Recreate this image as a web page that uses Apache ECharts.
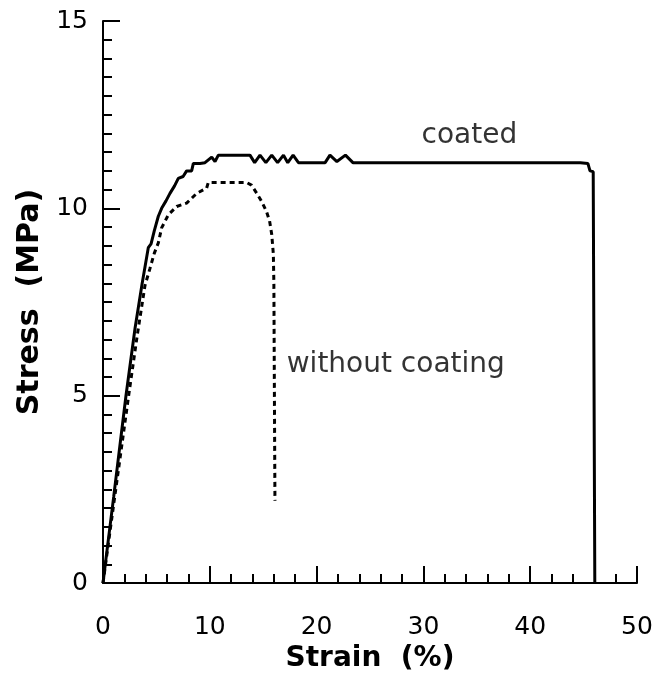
<!DOCTYPE html>
<html>
<head>
<meta charset="utf-8">
<script src="https://cdn.jsdelivr.net/npm/echarts@6/dist/echarts.min.js"></script>
<style>
html,body{margin:0;padding:0;background:#fff;}
#chart{width:658px;height:678px;}
</style>
</head>
<body>
<div id="chart"></div>
<script>
// Coated specimen
var coatedStrain = [0, 0.3, 1.0, 2.15, 3.0, 3.65, 4.24, 4.5, 4.8, 5.18, 5.49, 5.9, 6.27, 6.7, 7.05, 7.5, 7.83, 8.3, 8.46, 9.08, 9.55, 10.18, 10.49, 10.8, 13.76, 14.2, 14.7, 15.25, 15.8, 16.35, 16.9, 17.3, 17.8, 18.3, 20.8, 21.25, 21.9, 22.7, 23.4, 44.7, 45.4, 45.6, 45.9, 46.05];
var coatedStress = [0, 0.7, 2.3, 5.0, 6.8, 7.97, 8.95, 9.05, 9.4, 9.79, 10.0, 10.2, 10.4, 10.6, 10.8, 10.85, 11.0, 11.0, 11.2, 11.2, 11.22, 11.37, 11.25, 11.42, 11.42, 11.22, 11.42, 11.22, 11.42, 11.22, 11.42, 11.22, 11.42, 11.22, 11.22, 11.42, 11.25, 11.42, 11.22, 11.22, 11.2, 11.0, 10.98, 0];
// Specimen without coating
var bareStrain = [0, 1.0, 2.4, 3.2, 3.93, 4.4, 4.8, 5.18, 5.49, 6.12, 6.9, 7.83, 8.77, 9.7, 9.86, 13.45, 13.9, 14.4, 14.86, 15.3, 15.6, 15.8, 15.95, 16.0, 16.05, 16.1];
var bareStress = [0, 2.1, 5.0, 6.6, 7.94, 8.4, 8.8, 9.08, 9.48, 9.83, 10.05, 10.14, 10.4, 10.54, 10.69, 10.69, 10.62, 10.4, 10.18, 9.92, 9.66, 9.3, 8.78, 8.0, 5.0, 2.2];
// Axis ticks
var xTicks = [0, 10, 20, 30, 40, 50];
var yTicks = [0, 5, 10, 15];
// Curve labels
var curveLabels = ['coated', 'without coating'];

function pairs(xs, ys){ var out=[]; for(var i=0;i<xs.length;i++){ out.push([xs[i], ys[i]]); } return out; }

var chart = echarts.init(document.getElementById('chart'), null, {renderer:'canvas'});
var lineAxis = {show:true, onZero:false, lineStyle:{color:'#000', width:2}};
var tickStyle = {color:'#000', width:2};
var tickFont = {fontFamily:'DejaVu Sans', fontSize:25, color:'#000'};
var titleFont = {fontFamily:'DejaVu Sans', fontWeight:'bold', fontSize:28, color:'#000'};
var textFont = {fontFamily:'DejaVu Sans', fontSize:28, color:'#000', textBorderWidth:0};
chart.setOption({
  animation:false,
  backgroundColor:'#fff',
  grid:{left:103, right:21, top:21, bottom:89, containLabel:false},
  xAxis: {
    type:'value', min:xTicks[0], max:xTicks[xTicks.length-1], interval:10,
    name:'Strain  (%)', nameLocation:'middle', nameGap:55,
    nameTextStyle:titleFont,
    axisLine:lineAxis,
    axisTick:{show:true, inside:true, length:17, lineStyle:tickStyle},
    minorTick:{show:true, splitNumber:5, length:9, lineStyle:tickStyle},
    splitLine:{show:false}, minorSplitLine:{show:false},
    axisLabel:Object.assign({margin:32}, tickFont)
  },
  yAxis: {
    type:'value', min:yTicks[0], max:yTicks[yTicks.length-1], interval:5,
    name:'Stress  (MPa)', nameLocation:'middle', nameGap:58, nameRotate:90,
    nameTextStyle:Object.assign({}, titleFont, {fontSize:30}),
    axisLine:lineAxis,
    axisTick:{show:true, inside:true, length:17, lineStyle:tickStyle},
    minorTick:{show:true, splitNumber:10, length:9, lineStyle:tickStyle},
    splitLine:{show:false}, minorSplitLine:{show:false},
    axisLabel:Object.assign({margin:15}, tickFont)
  },
  series:[
    {type:'line', data:pairs(coatedStrain, coatedStress), showSymbol:false, symbol:'none',
     lineStyle:{color:'#000', width:3}, z:3},
    {type:'line', data:pairs(bareStrain, bareStress), showSymbol:false, symbol:'none',
     lineStyle:{color:'#000', width:3, type:[5,4]}, z:3},
    {type:'scatter', symbolSize:0, data:[[34.3, 11.94]], silent:true,
     label:Object.assign({show:true, position:'inside', formatter:curveLabels[0]}, textFont)},
    {type:'scatter', symbolSize:0, data:[[17.2, 5.84]], silent:true,
     label:Object.assign({show:true, position:'inside', align:'left', formatter:curveLabels[1]}, textFont)}
  ]
});
</script>
</body>
</html>
